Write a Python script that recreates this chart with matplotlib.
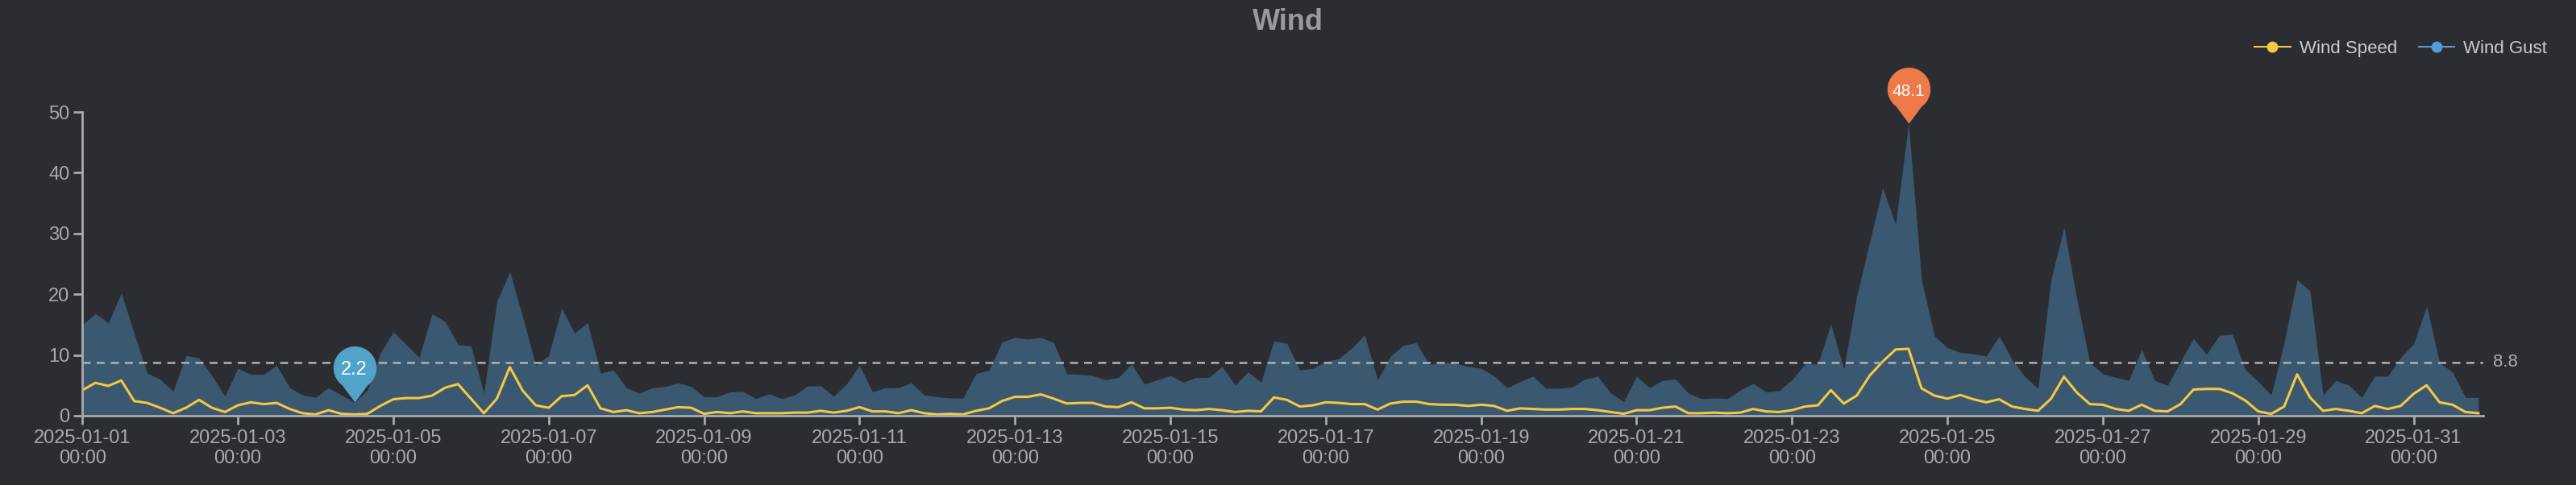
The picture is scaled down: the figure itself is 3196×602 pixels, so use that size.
import numpy as np
import pandas as pd
import matplotlib
matplotlib.use("Agg")
import matplotlib.pyplot as plt
import matplotlib.dates as mdates
from matplotlib.path import Path
from matplotlib.lines import Line2D

plt.rcParams["font.family"] = ["Liberation Sans", "DejaVu Sans"]

start = "2025-01-01 00:00"
step_hours = 4

wind_gust = [15.0,16.8,15.3,20.2,13.5,7.0,6.0,4.0,9.9,9.5,6.6,3.2,
 7.8,6.8,6.8,8.3,4.6,3.4,3.0,4.6,3.4,2.2,4.2,10.3,
 13.8,11.7,9.6,16.8,15.5,11.7,11.5,3.7,18.8,23.7,16.2,8.3,
 9.9,17.7,13.6,15.3,7.0,7.5,4.6,3.7,4.6,4.8,5.4,4.8,
 3.1,3.1,3.9,4.0,2.8,3.6,2.8,3.4,4.9,4.9,3.2,5.2,
 8.3,3.9,4.6,4.6,5.4,3.4,3.1,2.9,2.9,6.9,7.5,12.1,
 12.9,12.6,12.9,12.0,6.9,6.8,6.6,5.9,6.3,8.5,5.2,5.9,
 6.6,5.5,6.3,6.3,8.1,5.0,7.2,5.5,12.3,11.9,7.5,7.8,
 8.9,9.4,11.1,13.3,5.9,9.8,11.6,12.0,8.4,8.8,8.6,8.1,
 7.8,6.5,4.6,5.6,6.5,4.5,4.5,4.7,6.0,6.5,3.7,2.3,
 6.5,4.6,5.8,6.0,3.7,2.8,2.9,2.8,4.2,5.3,3.9,4.1,
 5.9,8.5,8.5,15.1,7.7,19.7,28.6,37.5,31.5,48.1,22.4,13.1,
 11.2,10.4,10.2,9.8,13.1,9.2,6.4,4.5,22.4,31.0,19.1,8.7,
 6.9,6.3,5.8,10.9,5.8,5.0,8.9,12.7,10.1,13.2,13.4,7.6,
 5.6,3.4,12.0,22.4,20.5,3.4,5.8,5.0,3.0,6.5,6.5,9.6,
 11.8,18.0,8.7,7.2,3.0,3.0]

wind_speed = [4.2,5.4,4.9,5.8,2.4,2.1,1.3,0.4,1.3,2.6,1.3,0.6,
 1.7,2.2,1.9,2.1,1.1,0.4,0.2,0.9,0.3,0.2,0.3,1.6,
 2.7,2.9,2.9,3.3,4.6,5.2,2.8,0.4,2.8,8.0,4.1,1.7,
 1.3,3.2,3.4,5.0,1.2,0.6,0.9,0.4,0.6,1.0,1.4,1.3,
 0.3,0.6,0.4,0.7,0.4,0.4,0.4,0.5,0.5,0.8,0.5,0.8,
 1.4,0.7,0.7,0.4,0.9,0.4,0.2,0.3,0.2,0.8,1.2,2.4,
 3.1,3.1,3.5,2.8,2.0,2.1,2.1,1.5,1.4,2.2,1.2,1.2,
 1.3,1.0,0.9,1.1,0.9,0.6,0.8,0.7,3.0,2.6,1.5,1.7,
 2.2,2.1,1.9,1.9,1.0,2.0,2.3,2.3,1.9,1.8,1.8,1.6,
 1.8,1.6,0.8,1.2,1.1,1.0,1.0,1.1,1.1,0.9,0.6,0.3,
 0.9,0.9,1.3,1.5,0.4,0.4,0.5,0.4,0.5,1.1,0.7,0.6,
 0.9,1.5,1.7,4.2,2.0,3.3,6.6,8.9,10.9,11.0,4.5,3.3,
 2.8,3.4,2.7,2.2,2.7,1.5,1.1,0.8,2.8,6.4,3.8,1.9,
 1.8,1.1,0.8,1.8,0.8,0.7,1.9,4.3,4.4,4.4,3.7,2.5,
 0.7,0.3,1.5,6.8,3.0,0.8,1.1,0.8,0.4,1.6,1.1,1.6,
 3.6,5.0,2.2,1.8,0.6,0.4]

series_names = ["Wind Speed", "Wind Gust"]
y_ticks = [0, 10, 20, 30, 40, 50]
gust_mean = 8.8

times = pd.date_range(start, periods=len(wind_gust), freq=f"{step_hours}h")
gust = np.array(wind_gust)
speed = np.array(wind_speed)

BG = "#2c2d33"
AX = "#aaaaaa"
fig = plt.figure(figsize=(31.96, 6.02), dpi=100, facecolor=BG)
ax = fig.add_axes([0.032, 0.143, 0.932, 0.626], facecolor=BG)

ax.fill_between(times, gust, 0, color="#3a5870", lw=0)
ax.plot(times, speed, color="#f5c842", lw=2.2)
ax.axhline(gust_mean, color="#b0b0b0", lw=1.8, ls=(0, (4, 3)))
ax.text(1.004, gust_mean, f"{gust_mean}", color=AX, transform=ax.get_yaxis_transform(),
        fontsize=16, va="center", ha="left")

# pins
verts = [(0, 0)] + [(np.cos(a), 1.6 + np.sin(a)) for a in np.linspace(-0.3*np.pi, 1.3*np.pi, 60)] + [(0, 0)]
pin = Path(verts, closed=True)
imax, imin = int(gust.argmax()), int(gust.argmin())
ax.plot(times[imax], gust[imax], marker=pin, ms=100, color="#ee7a4a", mec="none", zorder=5, clip_on=False)
ax.annotate(f"{gust[imax]}", (times[imax], gust[imax]), xytext=(0, 29), textcoords="offset points",
            ha="center", va="center", color="white", fontsize=15, zorder=6, annotation_clip=False)
ax.plot(times[imin], gust[imin], marker=pin, ms=100, color="#52a3c9", mec="none", zorder=5, clip_on=False)
ax.annotate(f"{gust[imin]}", (times[imin], gust[imin]), xytext=(0, 29), textcoords="offset points",
            ha="center", va="center", color="white", fontsize=17, zorder=6)

ax.set_ylim(0, 50)
ax.set_yticks(y_ticks)
ax.set_xlim(times[0], times[-1] + pd.Timedelta(hours=1.5))
ax.xaxis.set_major_locator(mdates.DayLocator(bymonthday=range(1, 32, 2)))
ax.xaxis.set_major_formatter(mdates.DateFormatter("%Y-%m-%d\n%H:%M"))
for s in ["top", "right"]:
    ax.spines[s].set_visible(False)
for s in ["left", "bottom"]:
    ax.spines[s].set_color(AX)
    ax.spines[s].set_linewidth(2)
ax.tick_params(colors=AX, labelsize=17, width=2, length=8)
ax.tick_params(axis="x", pad=4)
for lab in ax.get_xticklabels():
    lab.set_linespacing(1.2)

fig.text(0.5, 0.955, "Wind", ha="center", va="center", color="#9a9a9a", fontsize=26, fontweight="bold")

handles = [Line2D([], [], color="#f5c842", marker="o", ms=9, lw=1.5),
           Line2D([], [], color="#5b9bd5", marker="o", ms=9, lw=1.5)]
fig.legend(handles, series_names, loc="center right", bbox_to_anchor=(0.995, 0.9),
           ncol=2, frameon=False, labelcolor="#cccccc", fontsize=16, handlelength=2,
           columnspacing=1.2, handletextpad=0.5)

fig.savefig("out.png", dpi=100, facecolor=BG)
